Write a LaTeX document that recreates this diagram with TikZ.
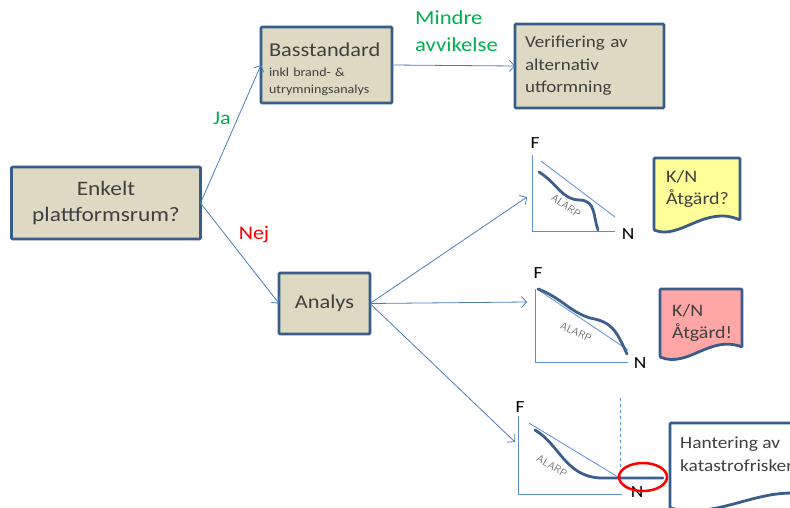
\documentclass[tikz,border=0pt]{standalone}
\usepackage{fontspec}
\setmainfont{Carlito}[FakeStretch=1.14]
\usetikzlibrary{positioning, arrows.meta}
\definecolor{BoxFill}{HTML}{DDD9C3}
\definecolor{BoxLine}{HTML}{385D8A}
\definecolor{ArrowBlue}{HTML}{4A7EBB}
\definecolor{CurveBlue}{HTML}{3C5F8E}
\definecolor{AxisBlue}{HTML}{5B8ED6}
\definecolor{TextGray}{HTML}{404040}
\definecolor{YesGreen}{HTML}{00B050}
\definecolor{NoRed}{HTML}{FF0000}
\definecolor{NoteYellow}{HTML}{FFFF99}
\definecolor{NotePink}{HTML}{FFA6A6}

\begin{document}
\begin{tikzpicture}[x=1pt, y=-1pt,
BoxStyle/.style={draw=BoxLine, fill=BoxFill, line width=2.8pt, rounded corners=1pt,
                 text=TextGray, inner sep=0pt, outer sep=0pt},
ArrowStyle/.style={draw=ArrowBlue, line width=0.8pt, -{Straight Barb[length=5pt, width=11pt]}},
AxisStyle/.style={draw=AxisBlue, line width=0.8pt},
CurveStyle/.style={draw=CurveBlue, line width=2.8pt, line cap=round},
NoteStyle/.style={draw=BoxLine, line width=2.8pt, rounded corners=1pt},
NoteText/.style={text=TextGray, align=left, anchor=north west, inner sep=0pt},
AlarpStyle/.style={text=gray!90!black, font=\sffamily\fontsize{10.5}{11}\selectfont, inner sep=0pt},
AxisLabel/.style={font=\fontsize{17}{20}\selectfont, inner sep=0pt},
]
\useasboundingbox (0,0) rectangle (790,508);

% main boxes
\node [BoxStyle, minimum width=189pt, minimum height=72pt, align=center,
       font=\fontsize{20.5}{26}\selectfont] (en) at (106,203) {Enkelt\\plattformsrum?};
\node [BoxStyle, minimum width=131pt, minimum height=76pt, text width=115pt, align=left,
       font=\fontsize{12.3}{17}\selectfont] (bs) at (326.5,65)
      {{\fontsize{19.6}{22}\selectfont\rule{0pt}{22pt}Basstandard}\\[3pt]inkl brand- \&\\utrymningsanalys};
\node [BoxStyle, minimum width=149pt, minimum height=84pt, text width=129pt, align=left,
       font=\fontsize{16.7}{22.5}\selectfont] (vf) at (589.5,66)
      {Verifiering av\\alternativ\\utformning};
\node [BoxStyle, minimum width=91pt, minimum height=61pt,
       font=\fontsize{19.6}{22}\selectfont] (an) at (324.5,303.5) {Analys};

% branch labels
\node [text=YesGreen, font=\fontsize{19.3}{22}\selectfont] (ja) at (222,118) {Ja};
\node [text=NoRed, font=\fontsize{19.3}{22}\selectfont] (nej) at (254,235) {Nej};
\node [text=YesGreen, align=left, anchor=west, inner sep=0pt,
       font=\fontsize{19.9}{27}\selectfont] (ma) at (415,31) {Mindre\\avvikelse};

% graph targets
\coordinate (g1) at (527,197);
\coordinate (g2) at (527,302);
\coordinate (g3) at (515,442);

% connectors
\draw [ArrowStyle] (en.east) -- (bs.west);
\draw [ArrowStyle] (en.east) -- (an.west);
\draw [ArrowStyle] (bs.east) -- (vf.west);
\draw [ArrowStyle] (an.east) -- (g1);
\draw [ArrowStyle] (an.east) -- (g2);
\draw [ArrowStyle] (an.east) -- (g3);

% graph 1
\draw [AxisStyle] (532,155) -- (532,231) -- (615,231);
\draw [AxisStyle] (541,161) -- (615,217);
\draw [CurveStyle] (539,172) .. controls (558,184) and (562,200) .. (580,200)
      .. controls (596,201) and (593,216) .. (598,230);
\node [AlarpStyle, rotate=-35] (al1) at (566,206) {ALARP};
\node [AxisLabel] (f1) at (535,143) {F};
\node [AxisLabel] (n1) at (628,234) {N};

% graph 2
\draw [AxisStyle] (535,289) -- (535,362) -- (628,362);
\draw [AxisStyle] (537,289) -- (628,350);
\draw [CurveStyle] (538,289) .. controls (560,297) and (570,312) .. (590,318)
      .. controls (612,322) and (616,330) .. (627,354);
\node [AlarpStyle, rotate=-25] (al2) at (576,332) {ALARP};
\node [AxisLabel] (f2) at (538,273) {F};
\node [AxisLabel] (n2) at (640,363) {N};

% graph 3
\draw [AxisStyle] (518,416) -- (518,494) -- (622,494);
\draw [AxisStyle, dashed] (620,398) -- (620,477);
\draw [AxisStyle] (529,423) -- (618,477);
\draw [CurveStyle] (535,430) .. controls (560,445) and (565,476) .. (600,478) -- (663,478);
\node [AlarpStyle, rotate=-30] (al3) at (552,466) {ALARP};
\node [AxisLabel] (f3) at (520,407) {F};
\node [AxisLabel] (n3) at (637,492) {N};
\draw [NoRed, line width=2.5pt] (643,477) ellipse [x radius=24, y radius=14];

% notes
\draw [NoteStyle, fill=NoteYellow] (654,158) -- (740,158) -- (740,220)
      .. controls (705,205) and (680,240) .. (654,230) -- cycle;
\node [NoteText, font=\fontsize{17.5}{22}\selectfont] (kn1) at (666,170) {K/N\\Åtgärd?};
\draw [NoteStyle, fill=NotePink] (660,289) -- (742,289) -- (742,347)
      .. controls (710,335) and (688,368) .. (660,357) -- cycle;
\node [NoteText, font=\fontsize{17.5}{22}\selectfont] (kn2) at (672,304) {K/N\\Åtgärd!};
\draw [NoteStyle, fill=white] (670,423) -- (810,423) -- (810,495)
      .. controls (760,485) and (720,520) .. (670,508) -- cycle;
\node [NoteText, font=\fontsize{17}{22.5}\selectfont] (hk) at (680,437) {Hantering av\\katastrofrisker};
\end{tikzpicture}
\end{document}
